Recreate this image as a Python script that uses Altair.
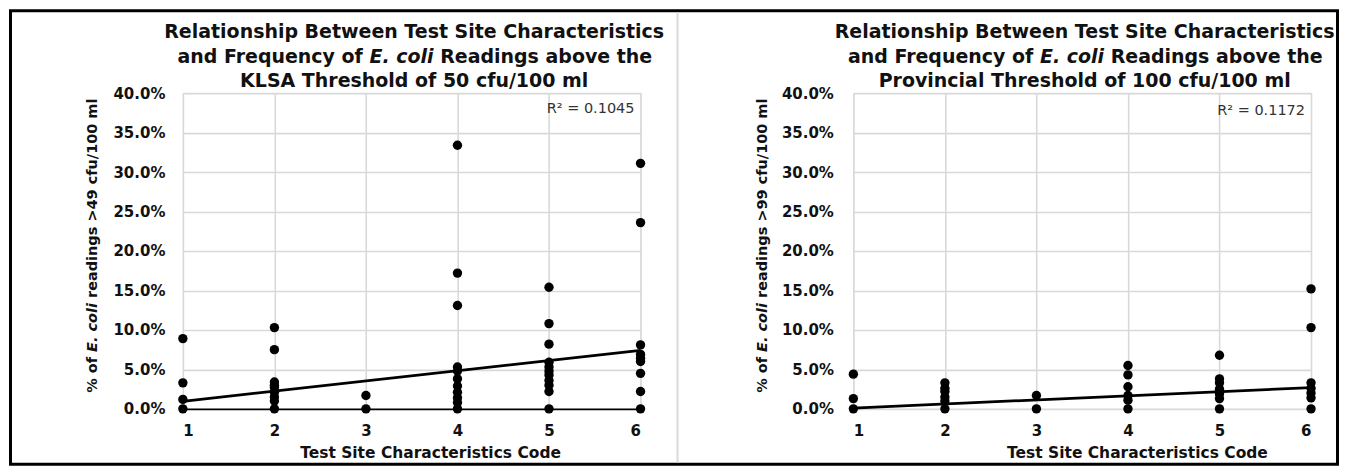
import altair as alt
import pandas as pd

FONT = "DejaVu Sans"
INK = "#111111"
GRID = "#d9d9d9"

codes = [1, 2, 3, 4, 5, 6]
y_ticks = [0, 5, 10, 15, 20, 25, 30, 35, 40]

# Left chart: % of readings > 49 cfu/100 ml (KLSA threshold)
klsa_code = ([1] * 4 + [2] * 9 + [3] * 2 + [4] * 11 + [5] * 11 + [6] * 9)
klsa_pct = [8.9, 3.3, 1.2, 0.0,
            10.3, 7.5, 3.4, 3.0, 2.7, 2.1, 1.5, 1.0, 0.0,
            1.7, 0.0,
            33.4, 17.2, 13.1, 5.3, 4.8, 3.8, 2.9, 2.1, 1.4, 0.8, 0.0,
            15.4, 10.8, 8.2, 5.9, 5.3, 4.8, 4.3, 3.6, 3.0, 2.2, 0.0,
            31.1, 23.6, 8.1, 6.9, 6.4, 6.0, 4.5, 2.2, 0.0]
klsa_trend_code = [1, 6]
klsa_trend_pct = [0.95, 7.4]
klsa_r2 = "R² = 0.1045"

# Right chart: % of readings > 99 cfu/100 ml (Provincial threshold)
prov_code = ([1] * 3 + [2] * 6 + [3] * 2 + [4] * 6 + [5] * 7 + [6] * 7)
prov_pct = [4.4, 1.3, 0.0,
            3.3, 2.6, 2.2, 1.5, 1.0, 0.0,
            1.7, 0.0,
            5.5, 4.3, 2.8, 1.7, 1.1, 0.0,
            6.8, 3.8, 3.3, 2.5, 1.9, 1.3, 0.0,
            15.2, 10.3, 3.3, 2.6, 2.0, 1.4, 0.0]
prov_trend_code = [1, 6]
prov_trend_pct = [0.1, 2.7]
prov_r2 = "R² = 0.1172"

title_line1 = "Relationship Between Test Site Characteristics"
title_line2 = ["and Frequency of", "E. coli", "Readings above the"]
klsa_line3 = "KLSA Threshold of 50 cfu/100 ml"
prov_line3 = "Provincial Threshold of 100 cfu/100 ml"
klsa_ytitle = ["% of", "E. coli", "readings >49 cfu/100 ml"]
prov_ytitle = ["% of", "E. coli", "readings >99 cfu/100 ml"]
x_title = "Test Site Characteristics Code"

W, H = 458, 316
ONE = alt.Data(values=[{"k": 0}])


def txt(text, x, y, size, weight="bold", style="normal", align="center",
        baseline="alphabetic", angle=0, color=INK):
    return alt.Chart(ONE).mark_text(
        text=text, font=FONT, fontSize=size, fontWeight=weight,
        fontStyle=style, align=align, baseline=baseline, angle=angle,
        color=color,
    ).encode(x=alt.value(x), y=alt.value(y))


def panel(code, pct, tcode, tpct, line3, ytitle, r2, r2_y, xtitle_x,
          zero_color, ylab_pad, extras):
    df = pd.DataFrame({"code": code, "pct": pct})
    tdf = pd.DataFrame({"code": tcode, "pct": tpct})
    x_enc = alt.X(
        "code:Q",
        scale=alt.Scale(domain=[1, 6], nice=False, zero=False),
        axis=alt.Axis(values=codes, format="d", title=None, grid=True,
                      gridColor=GRID, gridWidth=1.6, ticks=False,
                      domain=False, labelFont=FONT, labelFontSize=15,
                      labelFontWeight="bold", labelColor=INK,
                      labelPadding=15, labelOverlap=False),
    )
    y_enc = alt.Y(
        "pct:Q",
        scale=alt.Scale(domain=[0, 40], nice=False),
        axis=alt.Axis(values=y_ticks, title=None, grid=True,
                      gridColor=alt.condition("datum.value == 0",
                                              alt.value(zero_color),
                                              alt.value(GRID)),
                      gridWidth=1.6, ticks=False, domain=False,
                      labelExpr="format(datum.value, '.1f') + '%'",
                      labelFont=FONT, labelFontSize=15,
                      labelFontWeight="bold", labelColor=INK,
                      labelPadding=ylab_pad, labelOverlap=False),
    )
    points = alt.Chart(df).mark_circle(size=88, color="black",
                                       opacity=1).encode(x=x_enc, y=y_enc)
    trend = alt.Chart(tdf).mark_line(color="black", strokeWidth=2.75).encode(
        x=x_enc, y=y_enc)

    layers = list(extras)
    layers += [points, trend]
    # title (three lines, "E. coli" italic)
    layers.append(txt(title_line1, 231.5, -55, 19))
    layers.append(txt(title_line2[0], 180.1, -30.5, 19, align="right"))
    layers.append(txt(title_line2[1], 186.7, -30.5, 19, style="italic",
                      align="left"))
    layers.append(txt(title_line2[2], 257.5, -30.5, 19, align="left"))
    layers.append(txt(line3, 231.5, -6, 19))
    # y-axis title (rotated, "E. coli" italic)
    layers.append(txt(ytitle[0], -86, 264.0, 14.5, align="right", angle=270))
    layers.append(txt(ytitle[1], -86, 259.0, 14.5, style="italic",
                      align="left", angle=270))
    layers.append(txt(ytitle[2], -86, 205.0, 14.5, align="left", angle=270))
    # x-axis title
    layers.append(txt(x_title, xtitle_x, 365.5, 15.5))
    # R squared
    layers.append(txt(r2, 452, r2_y, 14.5, weight="normal", align="right",
                      color="#333333"))
    return alt.layer(*layers).properties(width=W, height=H)


frame = alt.Chart(ONE).mark_rect(
    fill="white", fillOpacity=0, stroke="black", strokeWidth=3
).encode(x=alt.value(-172.5), x2=alt.value(1155.5),
         y=alt.value(-82.5), y2=alt.value(371.5))
divider = alt.Chart(ONE).mark_rule(color=GRID, strokeWidth=2).encode(
    x=alt.value(495), y=alt.value(-81), y2=alt.value(370))

left = panel(klsa_code, klsa_pct, klsa_trend_code, klsa_trend_pct,
             klsa_line3, klsa_ytitle, klsa_r2, 19.5, 247.9, "black", 18,
             [frame, divider])
right = panel(prov_code, prov_pct, prov_trend_code, prov_trend_pct,
              prov_line3, prov_ytitle, prov_r2, 22, 284.3, GRID, 20, [])

chart = alt.hconcat(left, right, spacing=213, bounds="flush").properties(
    padding=0
).configure_view(stroke=None).configure(background="white")

chart.save("out.html", embed_options={"renderer": "svg", "actions": False})
